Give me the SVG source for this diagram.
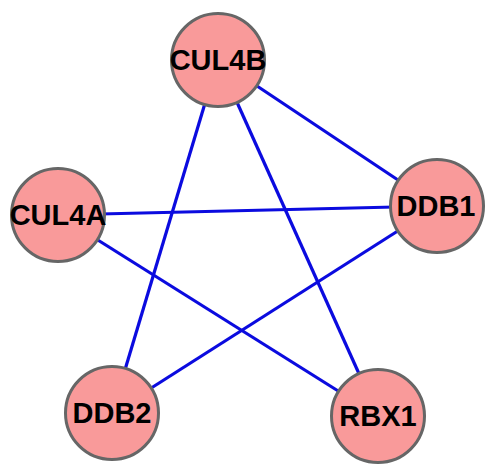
<svg xmlns="http://www.w3.org/2000/svg" width="485" height="464" viewBox="0 0 485 464">
  <style>
    .edge { stroke: #0b0bdf; stroke-width: 3.2; fill: none; }
    .node circle { fill: #f99a9a; stroke: #666666; stroke-width: 3; }
    .node text { font-family: "Liberation Sans", Arial, sans-serif; font-weight: bold; font-size: 29px; fill: #000; text-anchor: middle; dominant-baseline: central; }
  </style>
  <rect width="485" height="464" fill="#ffffff"/>
  <g id="edges">
    <line class="edge" x1="218" y1="60" x2="437" y2="206"/>
    <line class="edge" x1="218" y1="60" x2="112" y2="413"/>
    <line class="edge" x1="218" y1="60" x2="378" y2="416"/>
    <line class="edge" x1="58" y1="215" x2="437" y2="206"/>
    <line class="edge" x1="58" y1="215" x2="378" y2="416"/>
    <line class="edge" x1="437" y1="206" x2="112" y2="413"/>
  </g>
  <g id="CUL4B" class="node">
    <circle cx="218" cy="60" r="46.5"/>
    <text x="218" y="60">CUL4B</text>
  </g>
  <g id="DDB1" class="node">
    <circle cx="437" cy="206" r="46.5"/>
    <text x="436" y="206">DDB1</text>
  </g>
  <g id="CUL4A" class="node">
    <circle cx="58" cy="215" r="46.5"/>
    <text x="58" y="215">CUL4A</text>
  </g>
  <g id="DDB2" class="node">
    <circle cx="112" cy="413" r="46.5"/>
    <text x="112" y="413">DDB2</text>
  </g>
  <g id="RBX1" class="node">
    <circle cx="378" cy="416" r="46.5"/>
    <text x="378" y="416">RBX1</text>
  </g>
</svg>
